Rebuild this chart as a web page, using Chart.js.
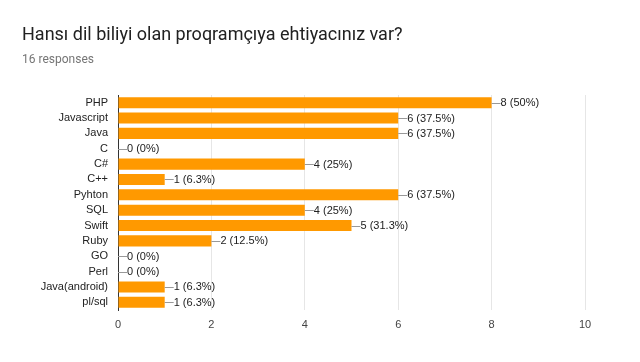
<!DOCTYPE html>
<html>
<head>
<meta charset="utf-8">
<script src="https://cdn.jsdelivr.net/npm/chart.js@4/dist/chart.umd.min.js"></script>
<style>
  body { margin: 0; background: #fff; }
  #wrap { position: relative; width: 640px; height: 362px; }
  #title { position: absolute; left: 22px; top: 23px; font: 18px Roboto, sans-serif; color: #212121; }
  #sub { position: absolute; left: 22px; top: 52px; font: 12px Roboto, sans-serif; color: #757575; }
  canvas { position: absolute; left: 0; top: 0; }
</style>
</head>
<body>
<div id="wrap">
  <canvas id="canvasChart" width="640" height="362"></canvas>
  <div id="title">Hansı dil biliyi olan proqramçıya ehtiyacınız var?</div>
  <div id="sub">16 responses</div>
</div>
<script>
var languages = ["PHP", "Javascript", "Java", "C", "C#", "C++", "Pyhton", "SQL", "Swift", "Ruby", "GO", "Perl", "Java(android)", "pl/sql"];
var counts = [8, 6, 6, 0, 4, 1, 6, 4, 5, 2, 0, 0, 1, 1];
var percents = ["50%", "37.5%", "37.5%", "0%", "25%", "6.3%", "37.5%", "25%", "31.3%", "12.5%", "0%", "0%", "6.3%", "6.3%"];
var xTicks = [0, 2, 4, 6, 8, 10];

//draws the "—8 (50%)" labels next to each bar
var barLabels = {
    id: "barLabels",
    afterDatasetsDraw: function (chart) {
        var ctx = chart.ctx;
        var meta = chart.getDatasetMeta(0);
        ctx.save();
        ctx.font = "11px 'Liberation Sans', Arial, sans-serif";
        ctx.textBaseline = "middle";
        ctx.fillStyle = "#222";
        for (var i = 0; i < meta.data.length; i++) {
            var bar = meta.data[i];
            ctx.strokeStyle = "#999";
            ctx.lineWidth = 1;
            ctx.beginPath();
            ctx.moveTo(bar.x, Math.round(bar.y) + 0.5);
            ctx.lineTo(bar.x + 9, Math.round(bar.y) + 0.5);
            ctx.stroke();
            ctx.fillText(counts[i] + " (" + percents[i] + ")", bar.x + 9, bar.y + 0.5);
        }
        ctx.restore();
    }
};

var ctx = document.getElementById("canvasChart").getContext("2d");
var chart = new Chart(ctx, {
    type: "bar",
    data: {
        labels: languages,
        datasets: [{
            data: counts,
            backgroundColor: "#ff9900",
            borderWidth: 0,
            barPercentage: 0.72,
            categoryPercentage: 1
        }]
    },
    options: {
        indexAxis: "y",
        responsive: false,
        animation: false,
        layout: { padding: { top: 95, right: 55, left: 0, bottom: 0 } },
        plugins: { legend: { display: false }, tooltip: { enabled: false } },
        scales: {
            x: {
                min: 0,
                max: 10,
                afterBuildTicks: function (scale) {
                    scale.ticks = xTicks.map(function (v) { return { value: v }; });
                },
                afterFit: function (scale) { scale.height = 52; },
                grid: { color: "#e6e6e6", drawTicks: false },
                border: { display: false },
                ticks: { padding: 8, color: "#444", font: { family: "'Liberation Sans', Arial", size: 11 } }
            },
            y: {
                afterFit: function (scale) { scale.width = 118; },
                grid: { display: false, drawTicks: false },
                border: { display: true, color: "#333", width: 1 },
                ticks: { autoSkip: false, padding: 10, color: "#222", font: { family: "'Liberation Sans', Arial", size: 11 } }
            }
        }
    },
    plugins: [barLabels]
});
</script>
</body>
</html>
